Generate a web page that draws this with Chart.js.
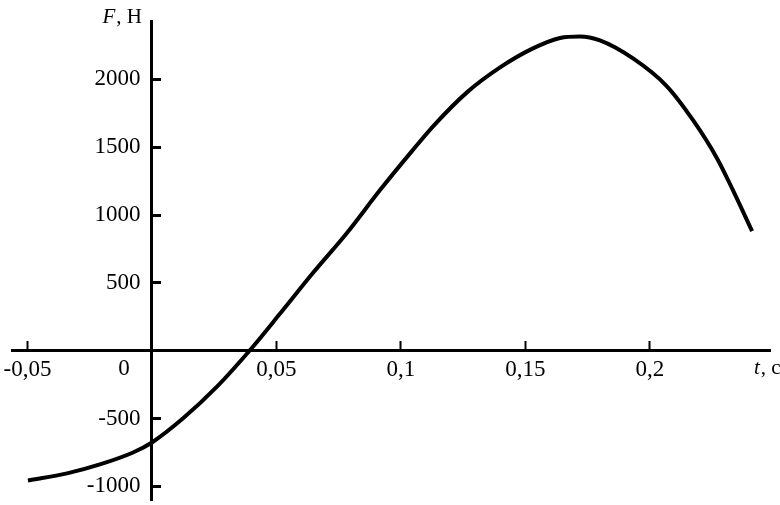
<!DOCTYPE html>
<html><head><meta charset="utf-8">
<script src="https://cdn.jsdelivr.net/npm/chart.js@4/dist/chart.umd.min.js"></script>
<style>html,body{margin:0;padding:0;background:#fff}#wrap{width:780px;height:505px}</style>
</head><body><div id="wrap"><canvas id="c" width="780" height="505"></canvas></div>
<script>
// time, s
const tValues = [-0.0498, -0.0341, -0.0209, -0.0076, 0.0, 0.0124, 0.0261, 0.0402, 0.0514, 0.0647, 0.0783,
  0.0916, 0.1044, 0.1129, 0.1265, 0.1398, 0.1530, 0.1639, 0.1719, 0.1799, 0.1932, 0.2068, 0.2173,
  0.2269, 0.2333, 0.2410];
// force, N
const forceValues = [-956, -904, -838, -750, -676, -500, -265, 22, 272, 574, 868,
  1184, 1471, 1654, 1904, 2088, 2228, 2305, 2316, 2287, 2154, 1949, 1699,
  1419, 1184, 882];
const xTickValues = [-0.05, 0.05, 0.1, 0.15, 0.2];
const yTickValues = [-1000, -500, 500, 1000, 1500, 2000];
const xTitleVar = 't', xTitleUnit = ', с';
const yTitleVar = 'F', yTitleUnit = ', Н';
const originLabel = '0';

const FONT = '"Liberation Serif", "Times New Roman", serif';
const points = tValues.map((t, i) => ({x: t, y: forceValues[i]}));

const annotate = {
  id: 'annotate',
  afterDraw(chart) {
    const ctx = chart.ctx, xs = chart.scales.x, ys = chart.scales.y, ca = chart.chartArea;
    const x0 = xs.getPixelForValue(0), y0 = ys.getPixelForValue(0);
    ctx.save();
    ctx.fillStyle = '#000';
    ctx.textBaseline = 'alphabetic';
    ctx.textAlign = 'left';
    function title(v, u, x, y, size, alignRight) {
      ctx.font = 'italic ' + size + 'px ' + FONT;
      const wv = ctx.measureText(v).width;
      ctx.font = size + 'px ' + FONT;
      const wu = ctx.measureText(u).width;
      const sx = alignRight ? x - wv - wu : x;
      ctx.font = 'italic ' + size + 'px ' + FONT;
      ctx.fillText(v, sx, y);
      ctx.font = size + 'px ' + FONT;
      ctx.fillText(u, sx + wv + 1, y);
    }
    title(yTitleVar, yTitleUnit, x0 - 11, ca.top + 2, 21, true);
    title(xTitleVar, xTitleUnit, ca.right - 16, y0 + 23, 21, false);
    ctx.font = '23px ' + FONT;
    ctx.textAlign = 'center';
    ctx.fillText(originLabel, x0 - 28, y0 + 24);
    ctx.restore();
  }
};

function noPad(s) { s.paddingLeft = 0; s.paddingRight = 0; s.paddingTop = 0; s.paddingBottom = 0; }

new Chart(document.getElementById('c'), {
  type: 'scatter',
  data: {datasets: [{
    data: points, showLine: true, borderColor: '#000', borderWidth: 4,
    pointRadius: 0, cubicInterpolationMode: 'monotone', fill: false
  }]},
  options: {
    responsive: false, animation: false, devicePixelRatio: 1,
    layout: {padding: {left: 12, right: 10, top: 21, bottom: 5}},
    plugins: {legend: {display: false}, tooltip: {enabled: false}},
    scales: {
      x: {
        type: 'linear', min: -0.0562, max: 0.2482, position: {y: 0},
        afterBuildTicks: s => { s.ticks = xTickValues.map(v => ({value: v})); },
        afterFit: noPad,
        grid: {drawOnChartArea: false, drawTicks: true, tickLength: -11, tickWidth: 2, tickColor: '#000'},
        border: {display: true, color: '#000', width: 3},
        ticks: {color: '#000', font: {family: FONT, size: 23}, padding: 16, maxRotation: 0,
          callback: v => String(v).replace('.', ',')}
      },
      y: {
        type: 'linear', min: -1100, max: 2430, position: {x: 0},
        afterBuildTicks: s => { s.ticks = yTickValues.map(v => ({value: v})); },
        afterFit: noPad,
        grid: {drawOnChartArea: false, drawTicks: true, tickLength: -11, tickWidth: 3, tickColor: '#000'},
        border: {display: true, color: '#000', width: 3},
        ticks: {color: '#000', font: {family: FONT, size: 23}, padding: 0,
          callback: v => String(v) + '\u2002'}
      }
    }
  },
  plugins: [annotate]
});
</script>
</body></html>
